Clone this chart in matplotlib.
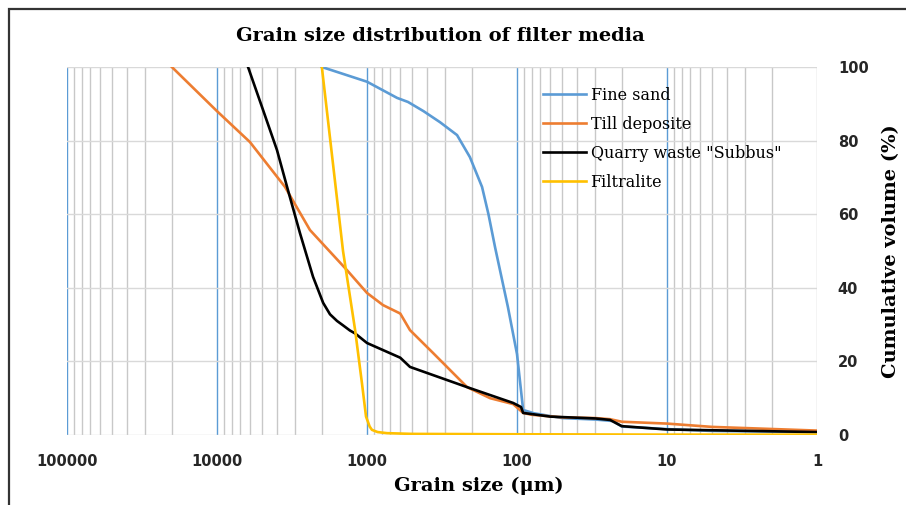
import numpy as np
import matplotlib
matplotlib.use('Agg')
import matplotlib.pyplot as plt
from matplotlib.ticker import FixedLocator, NullFormatter, FuncFormatter
from matplotlib.patches import Rectangle

# grain size (um) and cumulative volume (%)
sand_d = [2000, 1000, 630, 533, 420, 326, 251, 206, 171, 155, 140, 115, 100, 91, 77, 50, 30, 23, 20, 10, 5, 1]
sand_v = [100, 96, 91.6, 90.5, 88, 85, 81.5, 75.5, 67.4, 60, 51, 34.8, 22, 6.8, 5.9, 4.6, 4.2, 3.8, 2.3, 1.6, 1.1, 0.8]

till_d = [20000, 10000, 6030, 3520, 2400, 1360, 1000, 782, 600, 517, 363, 215, 151, 106, 91, 80, 50, 30, 24, 20, 10, 5, 1]
till_v = [100, 88, 79.6, 67.4, 55.7, 44.8, 38.6, 35.3, 33, 28.5, 22.3, 13, 10, 8.4, 6, 5.5, 4.8, 4.6, 4.3, 3.6, 3.1, 2.2, 1.2]

quarry_d = [6210, 4930, 3980, 3410, 2800, 2290, 1960, 1765, 1585, 1445, 1300, 1200, 1000, 600, 517, 215, 106, 94, 91, 60, 30, 24, 20, 10, 1]
quarry_v = [100, 88.3, 77.4, 67.4, 54.9, 43, 35.9, 32.8, 31, 29.8, 28.4, 27.6, 25, 21, 18.5, 13, 8.7, 7.6, 6, 5, 4.5, 4.1, 2.4, 1.5, 0.8]

filt_d = [2000, 1445, 1200, 1080, 1015, 960, 927, 850, 736, 500, 100, 10, 1]
filt_v = [100, 50, 28.5, 14, 5, 2.3, 1.4, 0.8, 0.5, 0.3, 0.2, 0.1, 0.1]

labels = ['Fine sand', 'Till deposite', 'Quarry waste "Subbus"', 'Filtralite']
colors = ['#5B9BD5', '#ED7D31', '#000000', '#FFC000']

fig = plt.figure(figsize=(9.06, 5.05), dpi=100)
ax = fig.add_axes([67/906, 1-435/505, 750/906, 368/505])

series = [(sand_d, sand_v), (till_d, till_v), (quarry_d, quarry_v), (filt_d, filt_v)]
for (d, v), lab, c in zip(series, labels, colors):
    ax.plot(d, v, color=c, lw=1.9, label=lab, zorder=3, solid_joinstyle='round')

ax.set_xscale('log')
ax.set_xlim(100000, 1)
ax.set_ylim(0, 100)

decades = [100000, 10000, 1000, 100, 10, 1]
minors = [m * 10.0**e for e in range(0, 5) for m in range(2, 10)]
ax.xaxis.set_major_locator(FixedLocator(decades))
ax.xaxis.set_minor_locator(FixedLocator(minors))
ax.xaxis.set_minor_formatter(NullFormatter())
ax.xaxis.set_major_formatter(FuncFormatter(lambda x, p: f'{int(round(x))}'))
ax.set_yticks([0, 20, 40, 60, 80, 100])

ax.grid(True, which='minor', axis='x', color='#c8c8c8', lw=1.0, zorder=0)
ax.grid(True, which='major', axis='x', color='#5B9BD5', lw=1.0, zorder=1)
ax.grid(True, which='major', axis='y', color='#d9d9d9', lw=1.0, zorder=0)
# the right edge (1 um) is a plain gray line in the original
ax.xaxis.get_gridlines()[-1].set_color('#c8c8c8')
for s in ax.spines.values():
    s.set_visible(False)

ax.yaxis.tick_right()
ax.yaxis.set_label_position('right')
ax.tick_params(axis='both', which='both', length=0)
ax.tick_params(axis='x', pad=14)
ax.tick_params(axis='y', pad=15)
for t in ax.get_xticklabels() + ax.get_yticklabels():
    t.set_fontfamily('DejaVu Sans')
    t.set_fontweight('bold')
    t.set_fontsize(10.5)
    t.set_color('#262626')

ax.set_xlabel('Grain size (μm)', fontfamily='DejaVu Serif', fontweight='bold', fontsize=14)
ax.xaxis.set_label_coords((479 - 67) / 750, -(477 - 435) / 368)
ax.set_ylabel('Cumulative volume (%)', fontfamily='DejaVu Serif', fontweight='bold', fontsize=14)
ax.yaxis.set_label_coords((882 - 67) / 750, 0.5)
fig.text(440/906, 1-36/505, 'Grain size distribution of filter media', ha='center', va='center',
         fontfamily='DejaVu Serif', fontweight='bold', fontsize=14)

leg = ax.legend(loc='upper left', bbox_to_anchor=(0.615, 0.985), frameon=False,
                prop={'family': 'DejaVu Serif', 'size': 11.5}, handlelength=2.7,
                handletextpad=0.3, labelspacing=0.75)

fig.patches.append(Rectangle((9/906, -0.05), 1.1, 1-9/505+0.05, transform=fig.transFigure,
                             fill=False, edgecolor='#333333', lw=1.6))

fig.savefig('out.png', dpi=100)
